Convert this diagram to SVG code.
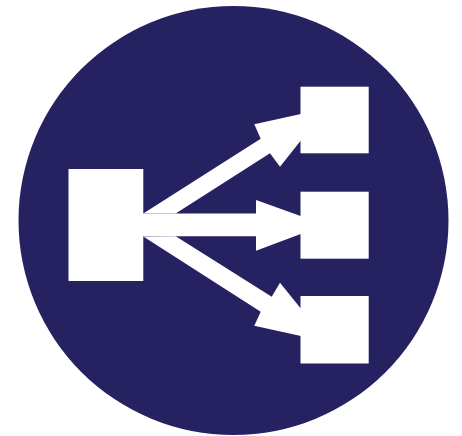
<svg xmlns="http://www.w3.org/2000/svg" width="462" height="436" viewBox="0 0 462 436">
<style>.n{fill:#fff}.c{fill:#fff}</style>
<rect width="462" height="436" fill="#fff"/>
<ellipse id="bg" cx="233.500" cy="220.500" rx="215" ry="214.500" fill="#262262"/>
<g id="connectors">
<polygon class="c" points="143.300,213.500 260.700,138.700 254.300,124.300 302,113.700 302,139 280,166.700 270,153.300 175.700,213.500"/>
<polygon class="c" points="143,213.500 256,213.500 256,200 302,216.500 302,233.500 256,250.700 256,236.300 143,236.300"/>
<polygon class="c" points="143.300,236.500 175.700,236.300 271.700,296.700 280,282.700 302,310 302,336.300 254.300,325.700 260.700,311.700"/>
</g>
<g id="source"><rect class="n" x="68.500" y="169" width="74.800" height="112"/></g>
<g id="target-1"><rect class="n" x="300.500" y="86.700" width="68.200" height="66.600"/></g>
<g id="target-2"><rect class="n" x="300.500" y="191.700" width="68.200" height="67"/></g>
<g id="target-3"><rect class="n" x="300.500" y="296" width="68.200" height="67.500"/></g>
</svg>
